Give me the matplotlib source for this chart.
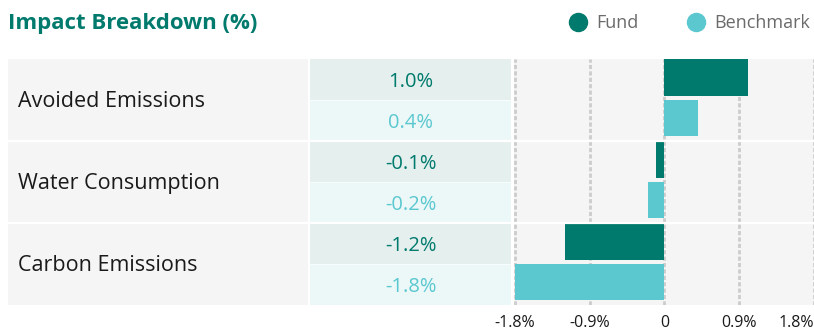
import matplotlib.pyplot as plt
from matplotlib.lines import Line2D

plt.rcParams['font.family'] = ['Open Sans', 'DejaVu Sans']

categories = ["Avoided Emissions", "Water Consumption", "Carbon Emissions"]
fund = [1.0, -0.1, -1.2]
benchmark = [0.4, -0.2, -1.8]
tick_values = [-1.8, -0.9, 0, 0.9, 1.8]
tick_labels = ["-1.8%", "-0.9%", "0", "0.9%", "1.8%"]

FUND_C = "#007a6c"
BENCH_C = "#5bc8d0"
ROW_BG = "#f5f5f5"
FUND_CELL = "#e4efee"
BENCH_CELL = "#ecf8f8"
GRID_C = "#cccccc"

W, H = 814, 331
fig = plt.figure(figsize=(W / 100, H / 100), dpi=100)
fig.patch.set_facecolor("white")

top_px, bot_px = 59, 305


def px_axes(x0, x1):
    return fig.add_axes([x0 / W, 1 - bot_px / H, (x1 - x0) / W, (bot_px - top_px) / H])


# three columns sharing the same row layout (each category = 2 sub-rows)
ax_lab = px_axes(8, 308)
ax_val = px_axes(310, 511)
ax_bar = px_axes(514, 814)

n_rows = len(categories) * 2
for ax in (ax_lab, ax_val, ax_bar):
    ax.set_ylim(n_rows, 0)
    for s in ax.spines.values():
        s.set_visible(False)

# label column
ax_lab.set_facecolor(ROW_BG)
ax_lab.set_xlim(0, 1)
ax_lab.set_xticks([])
ax_lab.set_yticks([])
for i, cat in enumerate(categories):
    ax_lab.text(0.033, 2 * i + 1.04, cat, va="center", ha="left", fontsize=15.5, color="#1a1a1a")

# value column
ax_val.set_xlim(0, 1)
ax_val.set_xticks([])
ax_val.set_yticks([])
for i in range(len(categories)):
    ax_val.axhspan(2 * i, 2 * i + 1, color=FUND_CELL, lw=0)
    ax_val.axhspan(2 * i + 1, 2 * i + 2, color=BENCH_CELL, lw=0)
    ax_val.axhline(2 * i + 1, color="white", lw=0.8, alpha=0.6)
    ax_val.text(0.5, 2 * i + 0.57, f"{fund[i]:.1f}%", ha="center", va="center",
                fontsize=14.5, color=FUND_C)
    ax_val.text(0.5, 2 * i + 1.55, f"{benchmark[i]:.1f}%", ha="center", va="center",
                fontsize=14.5, color=BENCH_C)

# bar column
ax_bar.set_facecolor(ROW_BG)
ax_bar.set_xlim(-1.812, 1.8)
for v in tick_values:
    ax_bar.axvline(v, color=GRID_C, lw=2, ls=(0, (1.5, 0.8)), zorder=1)
ypos = range(len(categories))
ax_bar.barh([2 * i + 0.45 for i in ypos], fund, height=0.9, color=FUND_C, zorder=2)
ax_bar.barh([2 * i + 1.44 for i in ypos], benchmark, height=0.9, color=BENCH_C, zorder=2)
ax_bar.set_yticks([])
ax_bar.set_xticks(tick_values)
ax_bar.set_xticklabels(tick_labels)
ax_bar.tick_params(axis="x", length=0, pad=7, labelsize=11.5, labelcolor="#1a1a1a")
ax_bar.get_xticklabels()[-1].set_horizontalalignment("right")

# white separators between categories
for ax in (ax_lab, ax_val, ax_bar):
    for i in range(1, len(categories)):
        ax.axhline(2 * i, color="white", lw=1.6, zorder=3)

# title and legend
fig.text(8 / W, 1 - 23 / H, "Impact Breakdown (%)", fontsize=16, fontweight="bold",
         color=FUND_C, va="center", ha="left")

handles = [
    Line2D([], [], marker="o", ls="", markersize=13, color=FUND_C),
    Line2D([], [], marker="o", ls="", markersize=13, color=BENCH_C),
]
fig.legend(handles, ["Fund", "Benchmark"], loc="center right",
           bbox_to_anchor=(1.0 + 5 / W, 1 - 23 / H), ncol=2, frameon=False, fontsize=13,
           labelcolor="#6b6b6b", handletextpad=0.4, columnspacing=2.6,
           borderaxespad=0.1, handlelength=1.2)

fig.savefig("out.png", dpi=100)
